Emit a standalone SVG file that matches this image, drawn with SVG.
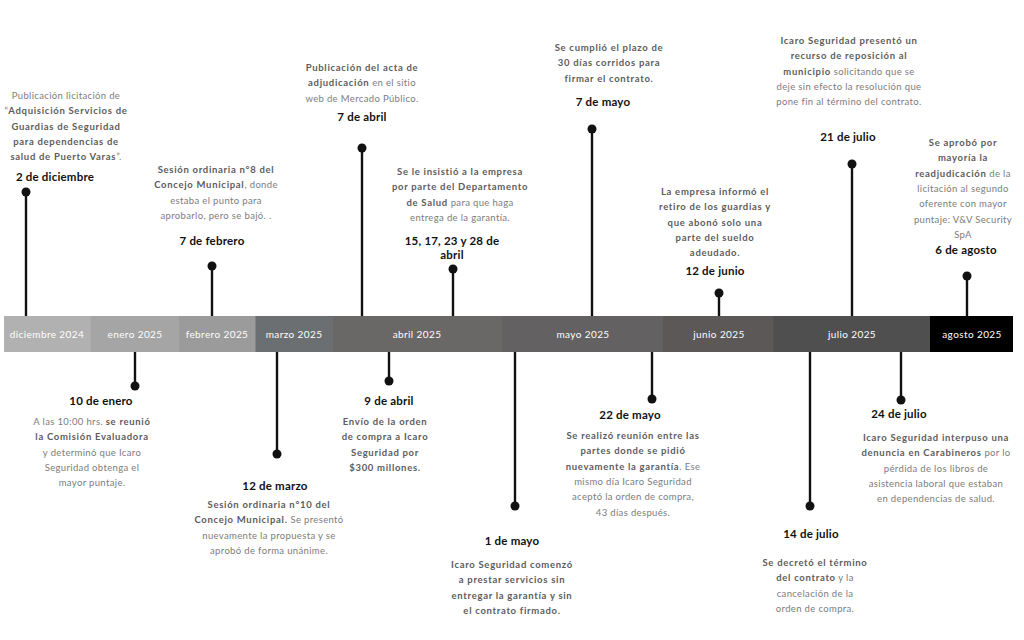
<svg xmlns="http://www.w3.org/2000/svg" width="1024" height="640" viewBox="0 0 1024 640">
<style>
text{font-family:Lato,"Noto Sans","DejaVu Sans",sans-serif;text-anchor:middle}
.d{font-size:9.5px;fill:#7c7c7c;letter-spacing:0.35px}
.b{font-weight:bold;fill:#5c5c5c;letter-spacing:0.7px}
.t{font-size:11.5px;font-weight:bold;fill:#111;letter-spacing:0.2px}
.m{font-size:10px;fill:#fff;letter-spacing:0.4px}
.stem{stroke:#111;stroke-width:2.4}
.dot{fill:#111}
</style>
<rect width="1024" height="640" fill="#fff"/>
<g id="bar">
<rect x="4" y="316" width="87" height="36" fill="#b1b1b1"/>
<rect x="90.5" y="316" width="89" height="36" fill="#a5a5a5"/>
<rect x="179" y="316" width="77" height="36" fill="#9b9b9b"/>
<rect x="255.5" y="316" width="78" height="36" fill="#6c6f72"/>
<rect x="333" y="316" width="170" height="36" fill="#6a6767"/>
<rect x="502" y="316" width="162" height="36" fill="#636161"/>
<rect x="663" y="316" width="111" height="36" fill="#5b5857"/>
<rect x="773.5" y="316" width="157" height="36" fill="#4f4f4f"/>
<rect x="930" y="316" width="83" height="36" fill="#000"/>
<text class="m" x="47" y="338">diciembre 2024</text>
<text class="m" x="135" y="338">enero 2025</text>
<text class="m" x="217" y="338">febrero 2025</text>
<text class="m" x="294" y="338">marzo 2025</text>
<text class="m" x="417" y="338">abril 2025</text>
<text class="m" x="583" y="338">mayo 2025</text>
<text class="m" x="719" y="338">junio 2025</text>
<text class="m" x="852" y="338">julio 2025</text>
<text class="m" x="972" y="338">agosto 2025</text>
</g>
<g id="connectors">
<line class="stem" x1="26" y1="192" x2="26" y2="316"/>
<line class="stem" x1="212" y1="266" x2="212" y2="316"/>
<line class="stem" x1="362" y1="148" x2="362" y2="316"/>
<line class="stem" x1="453" y1="269" x2="453" y2="316"/>
<line class="stem" x1="592" y1="129" x2="592" y2="316"/>
<line class="stem" x1="719" y1="293" x2="719" y2="316"/>
<line class="stem" x1="852" y1="164" x2="852" y2="316"/>
<line class="stem" x1="967" y1="276" x2="967" y2="316"/>
<line class="stem" x1="135" y1="352" x2="135" y2="386"/>
<line class="stem" x1="277" y1="352" x2="277" y2="454"/>
<line class="stem" x1="389" y1="352" x2="389" y2="381"/>
<line class="stem" x1="515" y1="352" x2="515" y2="506"/>
<line class="stem" x1="652" y1="352" x2="652" y2="399"/>
<line class="stem" x1="810" y1="352" x2="810" y2="506"/>
<line class="stem" x1="901" y1="352" x2="901" y2="400"/>
</g>
<g id="ev-2dic">
<circle class="dot" cx="26" cy="192" r="4.5"/>
<text class="d" x="66" y="99"><tspan x="66">Publicación licitación de</tspan><tspan x="66" dy="15.3">“<tspan class="b">Adquisición Servicios de</tspan></tspan><tspan x="66" dy="15.3" class="b">Guardias de Seguridad</tspan><tspan x="66" dy="15.3" class="b">para dependencias de</tspan><tspan x="66" dy="15.3"><tspan class="b">salud de Puerto Varas</tspan>”.</tspan></text>
<text class="t" x="55" y="181">2 de diciembre</text>
</g>
<g id="ev-7feb">
<circle class="dot" cx="212" cy="266" r="4.5"/>
<text class="d" x="216" y="173"><tspan x="216" class="b">Sesión ordinaria n°8 del</tspan><tspan x="216" dy="15.3"><tspan class="b">Concejo Municipal</tspan>, donde</tspan><tspan x="216" dy="15.3">estaba el punto para</tspan><tspan x="216" dy="15.3">aprobarlo, pero se bajó. .</tspan></text>
<text class="t" x="212" y="245">7 de febrero</text>
</g>
<g id="ev-7abr">
<circle class="dot" cx="362" cy="148" r="4.5"/>
<text class="d" x="362" y="71"><tspan x="362" class="b">Publicación del acta de</tspan><tspan x="362" dy="15.3"><tspan class="b">adjudicación</tspan> en el sitio</tspan><tspan x="362" dy="15.3">web de Mercado Público.</tspan></text>
<text class="t" x="362" y="121">7 de abril</text>
</g>
<g id="ev-abr-varios">
<circle class="dot" cx="453" cy="269" r="4.5"/>
<text class="d" x="460" y="175"><tspan x="460" class="b">Se le insistió a la empresa</tspan><tspan x="460" dy="15.3" class="b">por parte del Departamento</tspan><tspan x="460" dy="15.3"><tspan class="b">de Salud</tspan> para que haga</tspan><tspan x="460" dy="15.3">entrega de la garantía.</tspan></text>
<text class="t" x="452" y="245"><tspan x="452">15, 17, 23 y 28 de</tspan><tspan x="452" dy="14">abril</tspan></text>
</g>
<g id="ev-7may">
<circle class="dot" cx="592" cy="129" r="4.5"/>
<text class="d b" x="609" y="51"><tspan x="609">Se cumplió el plazo de</tspan><tspan x="609" dy="15.3">30 días corridos para</tspan><tspan x="609" dy="15.3">firmar el contrato.</tspan></text>
<text class="t" x="603" y="106">7 de mayo</text>
</g>
<g id="ev-12jun">
<circle class="dot" cx="719" cy="293" r="4.5"/>
<text class="d b" x="715" y="195"><tspan x="715">La empresa informó el</tspan><tspan x="715" dy="15.3">retiro de los guardias y</tspan><tspan x="715" dy="15.3">que abonó solo una</tspan><tspan x="715" dy="15.3">parte del sueldo</tspan><tspan x="715" dy="15.3">adeudado.</tspan></text>
<text class="t" x="715" y="275">12 de junio</text>
</g>
<g id="ev-21jul">
<circle class="dot" cx="852" cy="164" r="4.5"/>
<text class="d" x="849" y="44"><tspan x="849" class="b">Icaro Seguridad presentó un</tspan><tspan x="849" dy="15.3" class="b">recurso de reposición al</tspan><tspan x="849" dy="15.3"><tspan class="b">municipio</tspan> solicitando que se</tspan><tspan x="849" dy="15.3">deje sin efecto la resolución que</tspan><tspan x="849" dy="15.3">pone fin al término del contrato.</tspan></text>
<text class="t" x="848" y="141">21 de julio</text>
</g>
<g id="ev-6ago">
<circle class="dot" cx="967" cy="276" r="4.5"/>
<text class="d" x="963" y="146"><tspan x="963" class="b">Se aprobó por</tspan><tspan x="963" dy="15.3" class="b">mayoría la</tspan><tspan x="963" dy="15.3"><tspan class="b">readjudicación</tspan> de la</tspan><tspan x="963" dy="15.3">licitación al segundo</tspan><tspan x="963" dy="15.3">oferente con mayor</tspan><tspan x="963" dy="15.3">puntaje: V&amp;V Security</tspan><tspan x="963" dy="15.3">SpA</tspan></text>
<text class="t" x="966" y="254">6 de agosto</text>
</g>
<g id="ev-10ene">
<circle class="dot" cx="135" cy="386" r="4.5"/>
<text class="t" x="101" y="405">10 de enero</text>
<text class="d" x="92" y="425"><tspan x="92">A las 10:00 hrs. <tspan class="b">se reunió</tspan></tspan><tspan x="92" dy="15.3" class="b">la Comisión Evaluadora</tspan><tspan x="92" dy="15.3">y determinó que Icaro</tspan><tspan x="92" dy="15.3">Seguridad obtenga el</tspan><tspan x="92" dy="15.3">mayor puntaje.</tspan></text>
</g>
<g id="ev-12mar">
<circle class="dot" cx="277" cy="454" r="4.5"/>
<text class="t" x="275" y="490">12 de marzo</text>
<text class="d" x="269" y="508"><tspan x="269" class="b">Sesión ordinaria n°10 del</tspan><tspan x="269" dy="15.3"><tspan class="b">Concejo Municipal.</tspan> Se presentó</tspan><tspan x="269" dy="15.3">nuevamente la propuesta y se</tspan><tspan x="269" dy="15.3">aprobó de forma unánime.</tspan></text>
</g>
<g id="ev-9abr">
<circle class="dot" cx="389" cy="381" r="4.5"/>
<text class="t" x="389" y="405">9 de abril</text>
<text class="d b" x="385" y="425"><tspan x="385">Envío de la orden</tspan><tspan x="385" dy="15.3">de compra a Icaro</tspan><tspan x="385" dy="15.3">Seguridad por</tspan><tspan x="385" dy="15.3">$300 millones.</tspan></text>
</g>
<g id="ev-1may">
<circle class="dot" cx="515" cy="506" r="4.5"/>
<text class="t" x="512" y="545">1 de mayo</text>
<text class="d b" x="512" y="568"><tspan x="512">Icaro Seguridad comenzó</tspan><tspan x="512" dy="15.3">a prestar servicios sin</tspan><tspan x="512" dy="15.3">entregar la garantía y sin</tspan><tspan x="512" dy="15.3">el contrato firmado.</tspan></text>
</g>
<g id="ev-22may">
<circle class="dot" cx="652" cy="399" r="4.5"/>
<text class="t" x="630" y="419">22 de mayo</text>
<text class="d" x="633" y="439"><tspan x="633" class="b">Se realizó reunión entre las</tspan><tspan x="633" dy="15.3" class="b">partes donde se pidió</tspan><tspan x="633" dy="15.3"><tspan class="b">nuevamente la garantía</tspan>. Ese</tspan><tspan x="633" dy="15.3">mismo día Icaro Seguridad</tspan><tspan x="633" dy="15.3">aceptó la orden de compra,</tspan><tspan x="633" dy="15.3">43 días después.</tspan></text>
</g>
<g id="ev-14jul">
<circle class="dot" cx="810" cy="506" r="4.5"/>
<text class="t" x="811" y="538">14 de julio</text>
<text class="d" x="815" y="566"><tspan x="815" class="b">Se decretó el término</tspan><tspan x="815" dy="15.3"><tspan class="b">del contrato</tspan> y la</tspan><tspan x="815" dy="15.3">cancelación de la</tspan><tspan x="815" dy="15.3">orden de compra.</tspan></text>
</g>
<g id="ev-24jul">
<circle class="dot" cx="901" cy="400" r="4.5"/>
<text class="t" x="899" y="418">24 de julio</text>
<text class="d" x="936" y="441"><tspan x="936" class="b">Icaro Seguridad interpuso una</tspan><tspan x="936" dy="15.3"><tspan class="b">denuncia en Carabineros</tspan> por lo</tspan><tspan x="936" dy="15.3">pérdida de los libros de</tspan><tspan x="936" dy="15.3">asistencia laboral que estaban</tspan><tspan x="936" dy="15.3">en dependencias de salud.</tspan></text>
</g>
</svg>
